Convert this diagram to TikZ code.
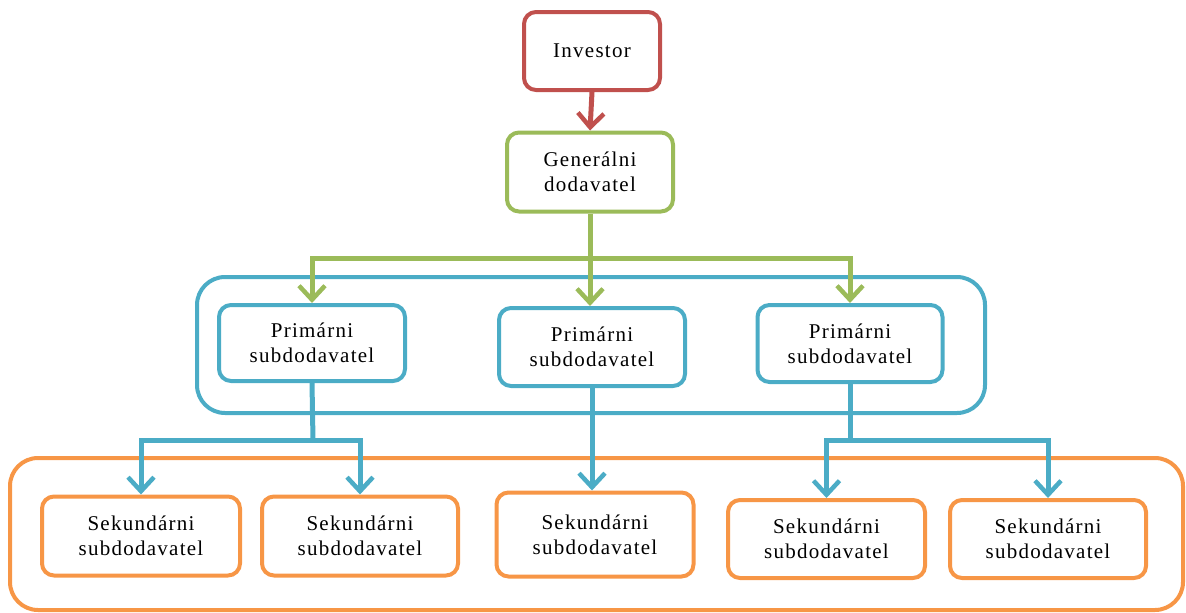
\documentclass[tikz,border=0pt]{standalone}
\usepackage{fontspec}
\setmainfont{Liberation Serif}[LetterSpace=6]
\usetikzlibrary{arrows.meta}
\definecolor{cred}{HTML}{C0504D}
\definecolor{cgreen}{HTML}{9BBB59}
\definecolor{cblue}{HTML}{4BACC6}
\definecolor{corange}{HTML}{F79646}
\tikzset{
  box/.style={draw=#1, line width=4pt, rounded corners=12pt, fill=white, text=black, align=center,
    font=\fontsize{21}{25}\selectfont, inner sep=0pt},
  cont/.style={draw=#1, line width=4pt, rounded corners=28pt},
  conn/.style={draw=#1, line width=5pt},
  arr/.style={conn=#1, -{Straight Barb[length=14pt,width=26pt,line width=4.5pt]}},
}
\begin{document}
\begin{tikzpicture}[x=1pt,y=-1pt]
\useasboundingbox (0,0) rectangle (1186,613);
% containers
\draw[cont=cblue] (197,277) rectangle (985,413);
\draw[cont=corange] (10,458) rectangle (1183,610);
% nodes
\node[box=cred, minimum width=136pt, minimum height=78pt] (inv) at (592,51) {Investor};
\node[box=cgreen, minimum width=166pt, minimum height=79pt] (gen) at (590,172) {Generálni\\dodavatel};
\node[box=cblue, minimum width=186pt, minimum height=76pt] (p1) at (312,343) {Primárni\\subdodavatel};
\node[box=cblue, minimum width=186pt, minimum height=78pt] (p2) at (592,347) {Primárni\\subdodavatel};
\node[box=cblue, minimum width=185pt, minimum height=77pt] (p3) at (850,343.5) {Primárni\\subdodavatel};
\node[box=corange, minimum width=198pt, minimum height=79pt] (s1) at (141,536) {Sekundárni\\subdodavatel};
\node[box=corange, minimum width=196pt, minimum height=79pt] (s2) at (360,536) {Sekundárni\\subdodavatel};
\node[box=corange, minimum width=197pt, minimum height=84pt] (s3) at (595,534.5) {Sekundárni\\subdodavatel};
\node[box=corange, minimum width=197pt, minimum height=78pt] (s4) at (826.5,539) {Sekundárni\\subdodavatel};
\node[box=corange, minimum width=196pt, minimum height=78pt] (s5) at (1048,539) {Sekundárni\\subdodavatel};
% junctions
\coordinate (gj) at (590,258);
\coordinate (bj1) at (313,440);
\coordinate (bj3) at (850,440);
% red
\draw[arr=cred] (inv.south) -- (gen.north);
% green
\draw[conn=cgreen] (gen.south) -- (gj);
\draw[arr=cgreen] (gj) -| (p1.north);
\draw[arr=cgreen] (gj) -| (p3.north);
\draw[arr=cgreen] (gj) -- (gj |- p2.north);
% blue
\draw[conn=cblue] (p1.south) -- (bj1);
\draw[arr=cblue] (bj1) -| (s1.north);
\draw[arr=cblue] (bj1) -| (s2.north);
\draw[arr=cblue] (p2.south) -- (p2.south |- s3.north);
\draw[conn=cblue] (p3.south) -- (bj3);
\draw[arr=cblue] (bj3) -| (s4.north);
\draw[arr=cblue] (bj3) -| (s5.north);
\end{tikzpicture}
\end{document}
